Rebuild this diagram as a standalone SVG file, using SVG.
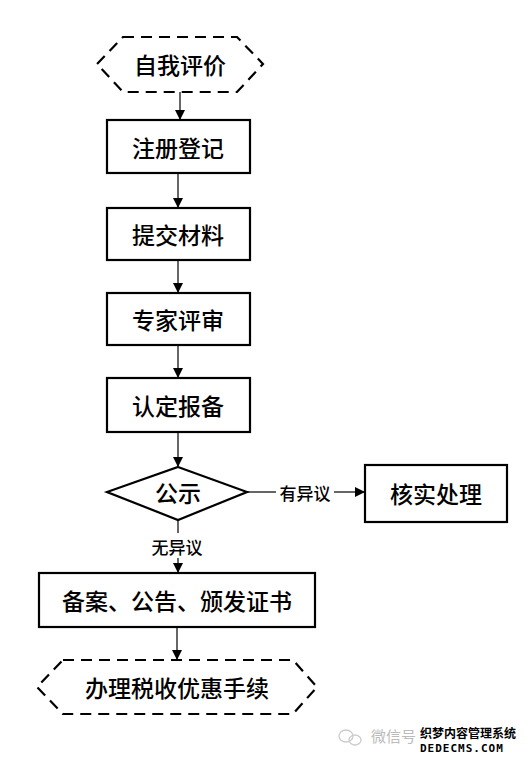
<svg xmlns="http://www.w3.org/2000/svg" width="527" height="762" viewBox="0 0 527 762">
<style>
.box{fill:#fff;stroke:#000;stroke-width:2.2}
.hex{fill:#fff;stroke:#000;stroke-width:2.2;stroke-dasharray:11 7}
.t{font-family:"Noto Sans CJK SC","Noto Sans CJK JP",sans-serif;font-size:23px;font-weight:500;fill:#000;text-anchor:middle;dominant-baseline:central}
.lbl{font-family:"Noto Sans CJK SC",sans-serif;font-size:17px;font-weight:500;fill:#000;text-anchor:middle;dominant-baseline:central}
.c{stroke:#000;stroke-width:1.2;fill:none}
</style>
<defs>
<marker id="ah" markerWidth="10" markerHeight="10" refX="9" refY="5" orient="auto" markerUnits="userSpaceOnUse">
<path d="M0,0 L10,5 L0,10 Z" fill="#000"/>
</marker>
</defs>
<rect width="527" height="762" fill="#fff"/>
<g id="connectors">
<line class="c" x1="180" y1="92" x2="180" y2="119" marker-end="url(#ah)"/>
<line class="c" x1="178" y1="173" x2="178" y2="207" marker-end="url(#ah)"/>
<line class="c" x1="178" y1="260" x2="178" y2="292" marker-end="url(#ah)"/>
<line class="c" x1="178" y1="345" x2="178" y2="377" marker-end="url(#ah)"/>
<line class="c" x1="178" y1="432" x2="178" y2="466" marker-end="url(#ah)"/>
<line class="c" x1="247" y1="492" x2="276" y2="492"/>
<line class="c" x1="334" y1="492" x2="364" y2="492" marker-end="url(#ah)"/>
<text class="lbl" x="305" y="492">有异议</text>
<line class="c" x1="178" y1="520" x2="178" y2="533"/>
<text class="lbl" x="177" y="546">无异议</text>
<line class="c" x1="178" y1="558" x2="178" y2="572" marker-end="url(#ah)"/>
<line class="c" x1="177" y1="627" x2="177" y2="659" marker-end="url(#ah)"/>
</g>
<g id="n1">
<polygon class="hex" points="123,37 237,37 263,64 237,92 123,92 97,64"/>
<text class="t" x="180" y="64">自我评价</text>
</g>
<g id="n2">
<rect class="box" x="107" y="120" width="143" height="53"/>
<text class="t" x="178" y="147">注册登记</text>
</g>
<g id="n3">
<rect class="box" x="107" y="208" width="143" height="52"/>
<text class="t" x="178" y="234">提交材料</text>
</g>
<g id="n4">
<rect class="box" x="107" y="293" width="143" height="52"/>
<text class="t" x="178" y="319">专家评审</text>
</g>
<g id="n5">
<rect class="box" x="107" y="378" width="143" height="54"/>
<text class="t" x="178" y="405">认定报备</text>
</g>
<g id="n6">
<polygon class="box" points="178,467 247,492 178,520 107,492"/>
<text class="t" x="178" y="492">公示</text>
</g>
<g id="n7">
<rect class="box" x="365" y="465" width="142" height="57"/>
<text class="t" x="436" y="493">核实处理</text>
</g>
<g id="n8">
<rect class="box" x="39" y="573" width="276" height="54"/>
<text class="t" x="177" y="600">备案、公告、颁发证书</text>
</g>
<g id="n9">
<polygon class="hex" points="63,660 293,660 317,687 293,714 63,714 37,687"/>
<text class="t" x="177" y="687">办理税收优惠手续</text>
</g>
<g id="watermark">
<ellipse cx="346" cy="736" rx="7" ry="6" fill="none" stroke="#ccc" stroke-width="1.3"/>
<ellipse cx="355" cy="740" rx="6" ry="5" fill="none" stroke="#ccc" stroke-width="1.3"/>
<text x="371" y="742" font-family="Noto Sans CJK SC,sans-serif" font-size="15" fill="#bbb">微信号</text>
<text x="420" y="738" font-family="Noto Sans CJK SC,sans-serif" font-size="12" font-weight="bold" fill="#000">织梦内容管理系统</text>
<text x="420" y="752" font-family="DejaVu Sans Mono,monospace" font-size="11" font-weight="bold" fill="#000" letter-spacing="1">DEDECMS.COM</text>
</g>
</svg>
